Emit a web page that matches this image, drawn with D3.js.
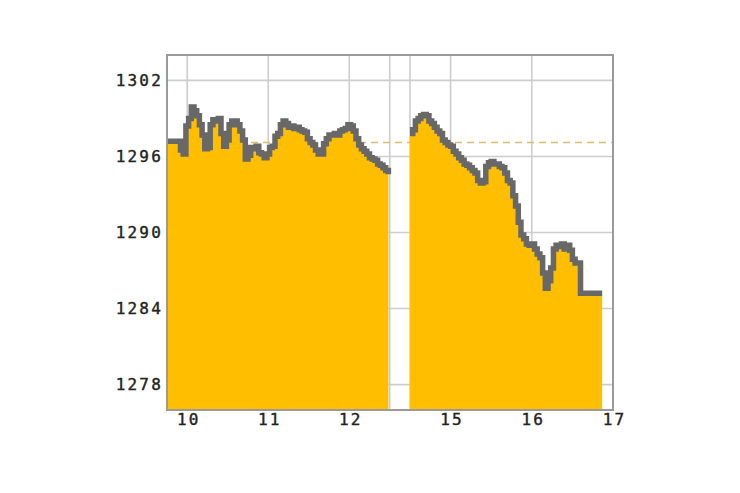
<!DOCTYPE html>
<html>
<head>
<meta charset="utf-8">
<script src="https://cdn.jsdelivr.net/npm/d3@7"></script>
<style>
  html, body { margin: 0; padding: 0; background: #fff; }
  svg { display: block; }
</style>
</head>
<body>
<svg id="chart" width="740" height="493"></svg>
<script>
// ---- data ----
const yTicks = [1278, 1284, 1290, 1296, 1302];
const xTicks = [10, 11, 12, 15, 16, 17];
const xTickLabels = ["10", "11", "12", "15", "16", "17"];
const sessionBreaks = [12.5, 14.5];
const prevClose = 1297.1;
const morningStart = 9.75;    // hours
const afternoonStart = 14.5;  // hours
const stepHours = 2 / 60;     // 2 minutes per sample
const morningValues = [
  1297.2, 1297.2, 1297.2, 1297.2, 1297.2, 1296.5, 1296.2, 1298.4, 1299.0, 1299.9,
  1299.6, 1299.2, 1298.5, 1297.7, 1296.6, 1296.7, 1298.5, 1298.9, 1298.8, 1299.0,
  1297.8, 1296.8, 1297.3, 1298.5, 1298.8, 1298.8, 1298.5, 1298.0, 1297.3, 1295.8,
  1296.1, 1296.7, 1296.6, 1296.8, 1296.3, 1296.2, 1295.9, 1296.2, 1296.7, 1296.8,
  1297.6, 1297.8, 1298.5, 1298.8, 1298.6, 1298.3, 1298.4, 1298.2, 1298.3, 1298.1,
  1298.0, 1297.9, 1297.4, 1297.1, 1296.9, 1296.5, 1296.2, 1296.2, 1297.0, 1297.4,
  1297.7, 1297.7, 1297.8, 1297.7, 1298.0, 1298.1, 1298.2, 1298.5, 1298.4, 1298.0,
  1297.4, 1296.9, 1296.6, 1296.4, 1296.2, 1295.9, 1295.8, 1295.7, 1295.4, 1295.3,
  1295.1, 1294.9, 1294.6
];
const afternoonValues = [
  1297.8, 1298.1, 1298.8, 1299.0, 1299.2, 1299.3, 1299.2, 1298.8, 1298.6, 1298.3,
  1298.0, 1297.8, 1297.3, 1297.1, 1296.9, 1296.8, 1296.4, 1296.2, 1295.9, 1295.7,
  1295.4, 1295.3, 1295.1, 1294.9, 1294.7, 1294.1, 1293.9, 1294.0, 1295.2, 1295.5,
  1295.6, 1295.4, 1295.4, 1295.2, 1295.1, 1294.7, 1294.1, 1293.9, 1292.9, 1292.1,
  1290.8, 1289.8, 1289.5, 1289.1, 1289.0, 1289.1, 1288.7, 1288.3, 1288.0, 1286.8,
  1285.6, 1286.2, 1287.2, 1288.7, 1289.0, 1288.9, 1289.1, 1288.7, 1289.0, 1288.6,
  1287.9, 1287.6, 1287.6, 1285.2, 1285.2, 1285.2, 1285.2, 1285.2, 1285.2, 1285.2,
  1285.2, 1285.2
];

// ---- layout ----
const pLeft = 167, pRight = 613, pTop = 55, pBottom = 410;
const svg = d3.select("#chart");

const x = d3.scaleLinear()
  .domain([9.75, 12.5, 14.5, 17])
  .range([pLeft, 389.75, 410, pRight]);
const y = d3.scaleLinear().domain([1276, 1304]).range([pBottom, pTop]);

const morning = morningValues.map((v, i) => ({ t: morningStart + i * stepHours, v }));
const afternoon = afternoonValues.map((v, i) => ({ t: afternoonStart + i * stepHours, v }));

// background
svg.append("rect").attr("x", pLeft).attr("y", pTop)
  .attr("width", pRight - pLeft).attr("height", pBottom - pTop).attr("fill", "#fff");

// grid
const grid = svg.append("g").attr("stroke", "#cdcdcd").attr("stroke-width", 1.6);
yTicks.forEach(t => grid.append("line")
  .attr("x1", pLeft).attr("x2", pRight).attr("y1", y(t)).attr("y2", y(t)));
xTicks.concat(sessionBreaks).filter(t => t < 17).forEach(t => grid.append("line")
  .attr("x1", x(t)).attr("x2", x(t)).attr("y1", pTop).attr("y2", pBottom));

// previous close dashed line
svg.append("line")
  .attr("x1", pLeft).attr("x2", pRight)
  .attr("y1", y(prevClose)).attr("y2", y(prevClose))
  .attr("stroke", "#d9bd6a").attr("stroke-width", 1.5)
  .attr("stroke-dasharray", "7,5");

const area = d3.area().x(d => x(d.t)).y0(pBottom).y1(d => y(d.v)).curve(d3.curveStepAfter);
const line = d3.line().x(d => x(d.t)).y(d => y(d.v)).curve(d3.curveStepAfter);

[morning, afternoon].forEach(seg => {
  svg.append("path").datum(seg).attr("d", area).attr("fill", "#FFBE00");
});
[morning, afternoon].forEach(seg => {
  svg.append("path").datum(seg).attr("d", line)
    .attr("fill", "none").attr("stroke", "#686868").attr("stroke-width", 5.5)
    .attr("stroke-linejoin", "miter").attr("stroke-linecap", "butt");
});

// border
svg.append("rect").attr("x", pLeft).attr("y", pTop)
  .attr("width", pRight - pLeft).attr("height", pBottom - pTop)
  .attr("fill", "none").attr("stroke", "#9a9a9a").attr("stroke-width", 2);

// y axis labels
const yAxis = d3.axisLeft(y).tickValues(yTicks).tickSize(0).tickPadding(4).tickFormat(d3.format("d"));
const gy = svg.append("g").attr("transform", `translate(${pLeft},0)`).call(yAxis);
gy.select(".domain").remove();
gy.selectAll("text")
  .attr("font-family", "'DejaVu Sans Mono', monospace")
  .attr("font-size", 16).attr("fill", "#222")
  .attr("stroke", "#222").attr("stroke-width", 0.4)
  .style("letter-spacing", "2.2px");

// x axis labels
const xAxis = d3.axisBottom(x).tickValues(xTicks).tickSize(0).tickPadding(4)
  .tickFormat((d, i) => xTickLabels[i]);
const gx = svg.append("g").attr("transform", `translate(0,${pBottom})`).call(xAxis);
gx.select(".domain").remove();
gx.selectAll("text")
  .attr("font-family", "'DejaVu Sans Mono', monospace")
  .attr("font-size", 16).attr("fill", "#222")
  .attr("stroke", "#222").attr("stroke-width", 0.4)
  .attr("dx", 1)
  .style("letter-spacing", "2.2px");
</script>
</body>
</html>
